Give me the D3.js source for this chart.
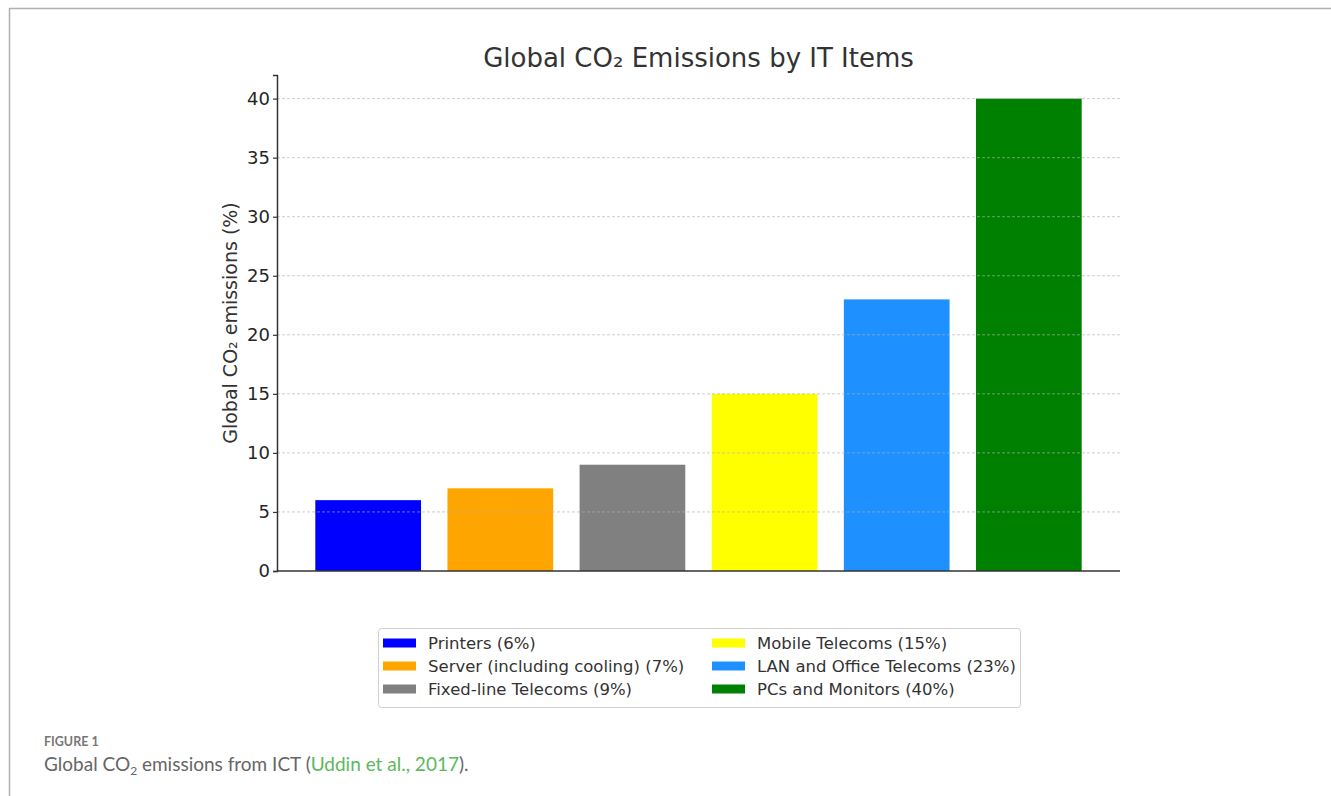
<!DOCTYPE html>
<html>
<head>
<meta charset="utf-8">
<script src="https://cdn.jsdelivr.net/npm/d3@7"></script>
<style>
  body { margin: 0; background: #fff; }
  svg { display: block; }
</style>
</head>
<body>
<div id="chart"></div>
<script>
// data
var categories = ["Printers", "Server (including cooling)", "Fixed-line Telecoms",
                  "Mobile Telecoms", "LAN and Office Telecoms", "PCs and Monitors"];
var values = [6, 7, 9, 15, 23, 40];
var colors = ["#0000ff", "#ffa500", "#808080", "#ffff00", "#1e90ff", "#008000"];
var yTicks = [0, 5, 10, 15, 20, 25, 30, 35, 40];

var width = 1331, height = 796;
var margin = {top: 75, right: 211, bottom: 225, left: 277};
var plotW = width - margin.left - margin.right;
var plotH = height - margin.top - margin.bottom;
var font = "'DejaVu Sans', sans-serif";

var svg = d3.select("#chart").append("svg")
  .attr("width", width)
  .attr("height", height)
  .style("font-family", font);

// page frame
svg.append("line").attr("x1", 9).attr("x2", width).attr("y1", 8.5).attr("y2", 8.5)
  .attr("stroke", "#b0b0b0").attr("stroke-width", 1.5);
svg.append("line").attr("x1", 9.5).attr("x2", 9.5).attr("y1", 8).attr("y2", height)
  .attr("stroke", "#b0b0b0").attr("stroke-width", 1.5);

var g = svg.append("g")
  .attr("transform", "translate(" + margin.left + "," + margin.top + ")");

// matplotlib-like: bars at 0..n-1 width 0.8, 5% margins
var n = categories.length;
var xlo = -0.4 - 0.05 * (n - 1 + 0.8), xhi = n - 1 + 0.4 + 0.05 * (n - 1 + 0.8);
var xScale = d3.scaleLinear().domain([xlo, xhi]).range([0, plotW]);
var yScale = d3.scaleLinear().domain([0, 42]).range([plotH, 0]);

g.selectAll(".bar")
  .data(values)
  .enter()
  .append("rect")
  .attr("class", "bar")
  .attr("x", function(d, i) { return xScale(i - 0.4); })
  .attr("width", function(d, i) { return xScale(i + 0.4) - xScale(i - 0.4); })
  .attr("y", function(d) { return yScale(d); })
  .attr("height", function(d) { return plotH - yScale(d); })
  .attr("fill", function(d, i) { return colors[i]; });

// horizontal dashed grid
g.selectAll(".grid")
  .data(yTicks.slice(1))
  .enter()
  .append("line")
  .attr("x1", 0).attr("x2", plotW)
  .attr("y1", function(d) { return yScale(d); })
  .attr("y2", function(d) { return yScale(d); })
  .attr("stroke", "#b0b0b0")
  .attr("stroke-opacity", 0.7)
  .attr("stroke-dasharray", "3,2")
  .attr("stroke-width", 0.9);

// y axis
var yAxis = g.append("g")
  .call(d3.axisLeft(yScale).tickValues(yTicks).tickSize(4).tickPadding(3));
yAxis.select(".domain").attr("stroke", "#333").attr("stroke-width", 1.5);
yAxis.selectAll(".tick line").attr("stroke", "#333").attr("stroke-width", 1.2);
yAxis.selectAll(".tick text")
  .attr("fill", "#262626")
  .style("font-size", "18px")
  .style("font-family", font);

// x axis line only
g.append("line")
  .attr("x1", 0).attr("x2", plotW)
  .attr("y1", plotH).attr("y2", plotH)
  .attr("stroke", "#333").attr("stroke-width", 1.5);

// title
svg.append("text")
  .attr("x", margin.left + plotW / 2)
  .attr("y", 67)
  .attr("text-anchor", "middle")
  .attr("fill", "#333")
  .style("font-size", "26px")
  .text("Global CO\u2082 Emissions by IT Items");

// y label
svg.append("text")
  .attr("transform", "translate(237," + (margin.top + plotH / 2) + ") rotate(-90)")
  .attr("text-anchor", "middle")
  .attr("fill", "#333")
  .style("font-size", "19px")
  .text("Global CO\u2082 emissions (%)");

// legend
var legend = svg.append("g").attr("transform", "translate(378,628)");
legend.append("rect")
  .attr("x", 0.5).attr("y", 0.5)
  .attr("width", 642).attr("height", 79)
  .attr("rx", 3)
  .attr("fill", "#fff")
  .attr("stroke", "#d0d0d0");

var items = legend.selectAll(".item")
  .data(categories)
  .enter()
  .append("g")
  .attr("transform", function(d, i) {
    var col = Math.floor(i / 3), row = i % 3;
    return "translate(" + (5 + col * 329) + "," + (15 + row * 23) + ")";
  });
items.append("rect")
  .attr("x", 0).attr("y", -4.5)
  .attr("width", 33).attr("height", 9)
  .attr("fill", function(d, i) { return colors[i]; });
items.append("text")
  .attr("x", 45).attr("y", 0)
  .attr("dy", "0.35em")
  .attr("fill", "#333")
  .style("font-size", "16.5px")
  .text(function(d, i) { return d + " (" + values[i] + "%)"; });

// caption
svg.append("text")
  .attr("x", 44).attr("y", 746)
  .attr("fill", "#777")
  .style("font-family", "Lato, 'Open Sans', sans-serif")
  .style("font-size", "12.5px")
  .style("font-weight", "bold")
  .text("FIGURE 1");

var cap = svg.append("text")
  .attr("x", 44).attr("y", 771)
  .attr("fill", "#666")
  .style("font-family", "Lato, 'Open Sans', sans-serif")
  .style("font-size", "19px");
cap.append("tspan").text("Global CO");
cap.append("tspan").attr("dy", 4).style("font-size", "12px").text("2");
cap.append("tspan").attr("dy", -4).text(" emissions from ICT (");
cap.append("tspan").attr("fill", "#5cb85c").text("Uddin et al., 2017");
cap.append("tspan").text(").");
</script>
</body>
</html>
